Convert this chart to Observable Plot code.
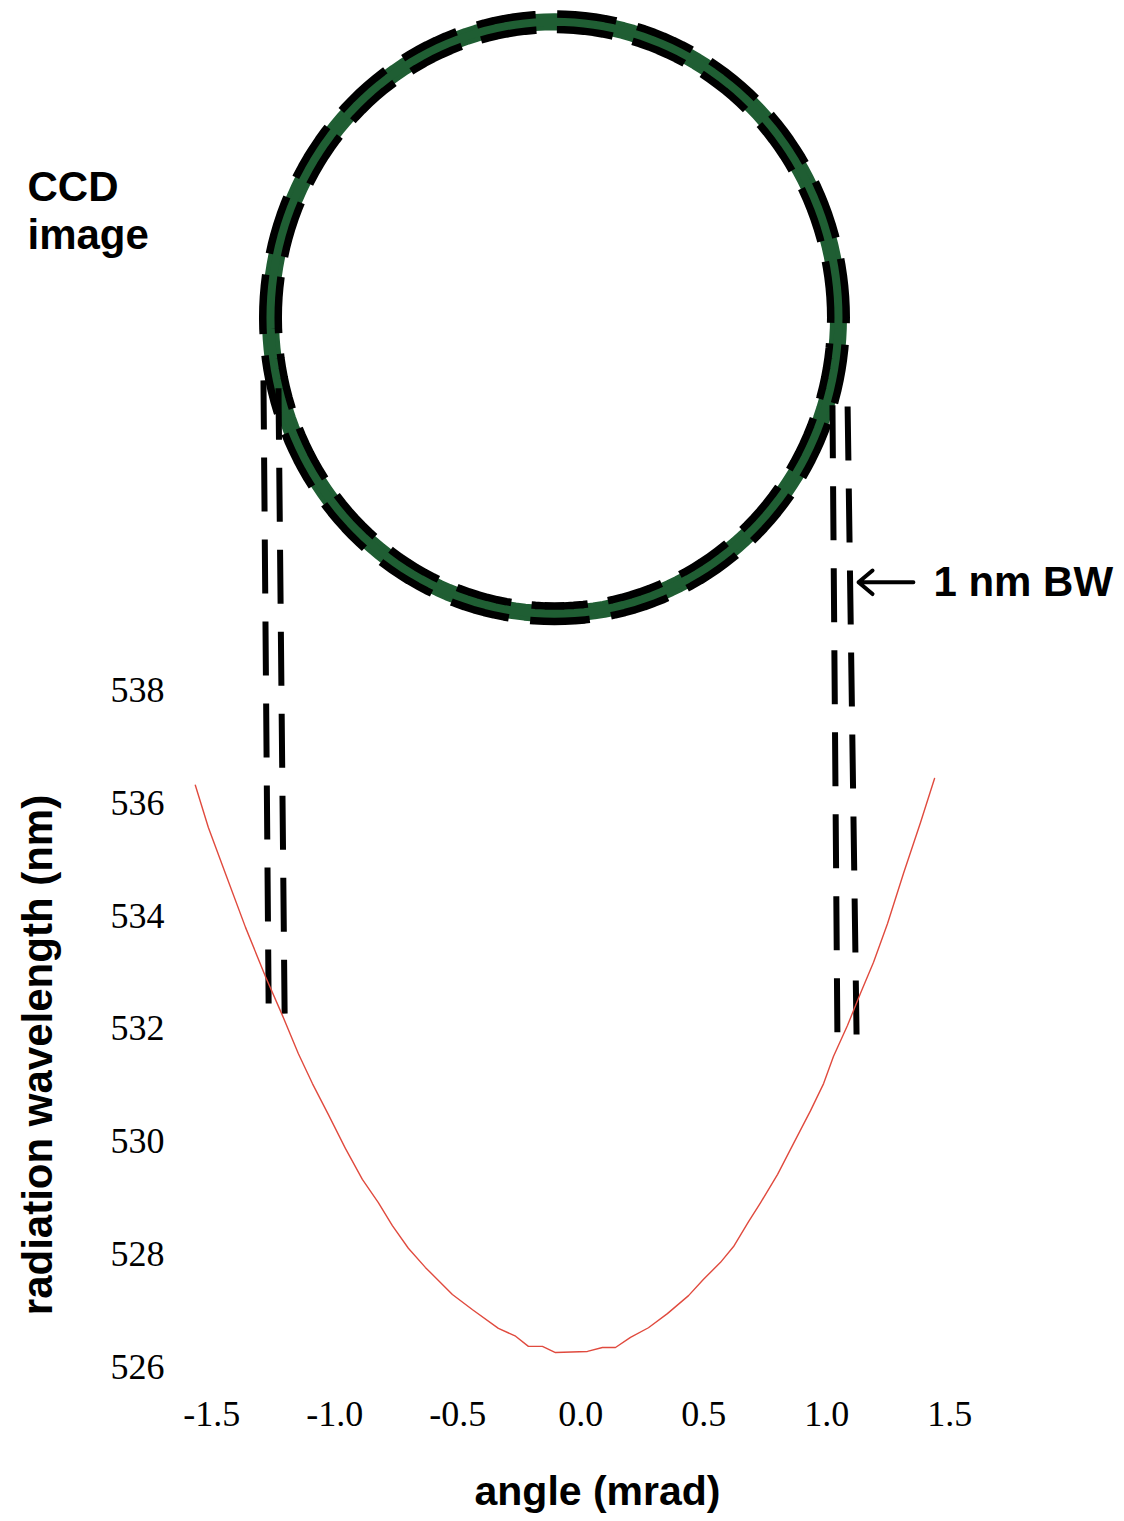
<!DOCTYPE html>
<html><head><meta charset="utf-8">
<script src="https://cdn.jsdelivr.net/npm/d3@7"></script>
<script src="https://cdn.jsdelivr.net/npm/@observablehq/plot@0.6"></script>
<style>
html,body{margin:0;padding:0;background:#fff;}
#chart svg{display:block;}
</style></head><body><div id="chart"></div>
<script>
// Red curve: radiation wavelength (nm) versus angle (mrad)
const angle = [-1.567,-1.514,-1.445,-1.363,-1.282,-1.213,-1.148,-1.091,-1.026,-0.957,-0.888,-0.823,-0.766,-0.701,-0.632,-0.522,-0.440,-0.335,-0.265,-0.213,-0.156,-0.103,
  0.027,0.088,0.141,0.202,0.275,0.352,0.438,0.499,0.568,0.621,0.682,0.731,0.800,0.865,0.934,0.987,1.027,1.084,1.137,1.190,1.247,1.312,1.381,1.438];
const wavelength = [536.32,535.57,534.76,533.80,532.93,532.24,531.56,531.03,530.48,529.88,529.33,528.92,528.51,528.11,527.77,527.29,527.02,526.69,526.55,526.37,526.37,526.26,
  526.28,526.35,526.35,526.53,526.70,526.95,527.27,527.56,527.86,528.14,528.58,528.92,529.42,529.97,530.55,531.03,531.51,532.06,532.63,533.18,533.87,534.76,535.66,536.44];

// Tick labels
const xTicks = [-1.5, -1.0, -0.5, 0.0, 0.5, 1.0, 1.5];
const yTicks = [526, 528, 530, 532, 534, 536, 538];

// CCD ring (ellipse) centre and radii, in chart units
const ringCenterX = -0.107, ringCenterY = 544.61;
const ringRadiusX = 1.1545, ringRadiusY = 5.249;

// 1 nm bandwidth dashed guide lines
const bwTopX = [-1.290, -1.229, 1.023, 1.084];
const bwBottomX = [-1.269, -1.204, 1.043, 1.121];
const bwTopY = [543.50, 543.36, 543.06, 543.23];
const bwBottomY = [532.45, 532.27, 531.94, 531.90];

// "1 nm BW" arrow
const bwArrowFrom = 1.352, bwArrowTo = 1.129, bwArrowY = 539.92;

const curve = angle.map((a, i) => ({x: a, y: wavelength[i]}));
const ring = d3.range(0, 360, 2).map(deg => {
  const t = deg * Math.PI / 180;
  return {x: ringCenterX + ringRadiusX * Math.cos(t), y: ringCenterY + ringRadiusY * Math.sin(t)};
});
const bwLines = bwTopX.map((x, i) => ({xt: x, xb: bwBottomX[i], yt: bwTopY[i], yb: bwBottomY[i]}));

const green = "#1f5e33";
const sans = "'Liberation Sans', Arial, Helvetica, sans-serif";
const serif = "'Liberation Serif', 'Times New Roman', serif";

const chart = Plot.plot({
  width: 1124, height: 1521, margin: 0,
  x: {domain: [-2.359, 2.2102]},
  y: {domain: [523.264, 550.237]},
  style: {background: "#fff", fontFamily: serif},
  marks: [
    Plot.line(ring, {x: "x", y: "y", curve: "linear-closed", stroke: green, strokeWidth: 17, strokeLinecap: "butt"}),
    Plot.line(ring, {x: "x", y: "y", curve: "linear-closed", stroke: "#000", strokeWidth: 23, strokeDasharray: "58,21", strokeLinecap: "butt", strokeLinejoin: "miter"}),
    Plot.line(ring, {x: "x", y: "y", curve: "linear-closed", stroke: green, strokeWidth: 8, strokeLinecap: "butt"}),
    Plot.link(bwLines, {x1: "xb", y1: "yb", x2: "xt", y2: "yt", stroke: "#000", strokeWidth: 6, strokeDasharray: "54,28", strokeLinecap: "butt"}),
    Plot.line(curve, {x: "x", y: "y", stroke: "#e04a3e", strokeWidth: 1.4}),
    Plot.arrow([{x1: bwArrowFrom, x2: bwArrowTo, y: bwArrowY}], {x1: "x1", x2: "x2", y1: "y", y2: "y", stroke: "#000", strokeWidth: 4, headLength: 26, headAngle: 80}),
    Plot.text([{x: bwArrowFrom, y: bwArrowY}], {x: "x", y: "y", text: () => "1 nm BW", textAnchor: "start", dx: 20, fontFamily: sans, fontWeight: "bold", fontSize: 42}),
    Plot.text(["CCD\nimage"], {frameAnchor: "top-left", textAnchor: "start", lineAnchor: "top", dx: 27, dy: 166, lineHeight: 1.15, fontFamily: sans, fontWeight: "bold", fontSize: 42}),
    Plot.text(["angle (mrad)"], {frameAnchor: "bottom", textAnchor: "middle", lineAnchor: "bottom", dx: 35, dy: -17, fontFamily: sans, fontWeight: "bold", fontSize: 41}),
    Plot.text(["radiation wavelength (nm)"], {frameAnchor: "left", textAnchor: "middle", rotate: -90, lineAnchor: "middle", dx: 38, dy: 294, fontFamily: sans, fontWeight: "bold", fontSize: 42}),
    Plot.axisX(xTicks, {anchor: "bottom", tickSize: 0, tickPadding: 0, dy: -121, tickFormat: d => d.toFixed(1), label: null, fontFamily: serif, fontSize: 36}),
    Plot.axisY(yTicks, {anchor: "left", tickSize: 0, tickPadding: 0, dx: 164, tickFormat: d => String(d), label: null, fontFamily: serif, fontSize: 36})
  ]
});
document.getElementById("chart").appendChild(chart);
</script></body></html>
